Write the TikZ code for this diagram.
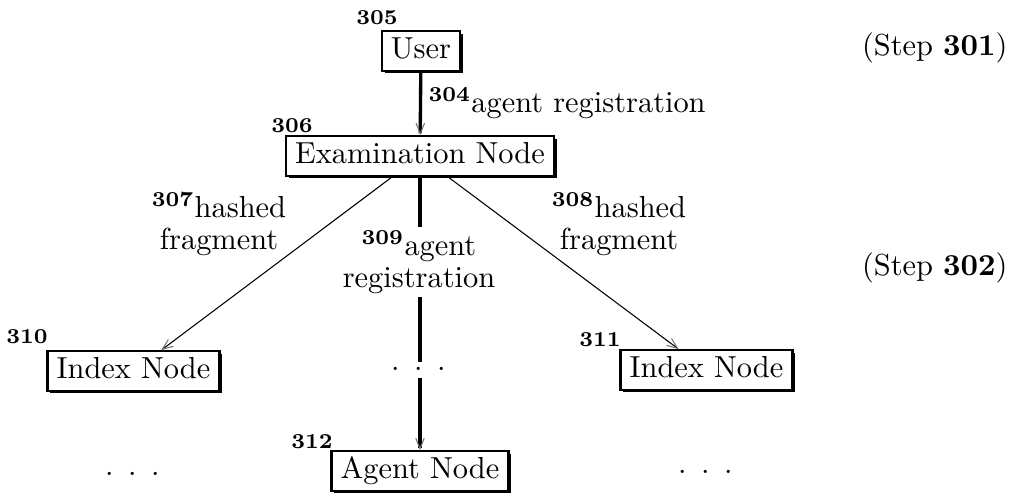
\documentclass[tikz,border=0pt]{standalone}
\usetikzlibrary{arrows.meta,shadows}
\newcommand\tdots{${\cdot}\hspace{4.8pt}{\cdot}\hspace{4.8pt}{\cdot}$}
\newcommand\refnum[1]{\textsuperscript{\bfseries #1}}
\begin{document}
\begin{tikzpicture}[x=0.329pt,y=-0.329pt,
  box/.style={draw,fill=white,line width=0.7pt,inner xsep=3pt,inner ysep=2pt,
    text height=7pt,text depth=2pt,
    drop shadow={shadow xshift=0.9pt,shadow yshift=-0.9pt,opacity=1,fill=black}},
  num/.style={font=\scriptsize\bfseries,inner sep=0pt},
  lbl/.style={align=center,font=\fontsize{10}{10.5}\selectfont,inner sep=0pt},
  tip/.style={-{Straight Barb[length=3.5pt,width=2.8pt,line width=0.35pt,color=black!55]}},
  thickline/.style={line width=1.1pt},
  thinline/.style={line width=0.35pt},
  dotsnode/.style={inner sep=0pt}]
\useasboundingbox (0,0) rectangle (1018,500);

% boxes
\node[box] (user)  at (421,51)    {User};
\node[box] (exam)  at (420,156)   {Examination Node};
\node[box] (idx1)  at (133.5,371) {Index Node};
\node[box] (idx2)  at (706.5,370) {Index Node};
\node[box] (agent) at (420,471)   {Agent Node};

% reference numbers
\node[num] (n305) at (377,18)  {305};
\node[num] (n306) at (292,126) {306};
\node[num] (n310) at (27,337)  {310};
\node[num] (n311) at (600,340) {311};
\node[num] (n312) at (312,442) {312};

% dots
\node[dotsnode] (d1) at (133,475) {\tdots};
\node[dotsnode] (d2) at (419,370) {\tdots};
\node[dotsnode] (d3) at (706,473) {\tdots};
\coordinate (g1) at (420,362);
\coordinate (g2) at (420,378);

% connectors
\draw[thickline,tip] (user) -- (exam);
\draw[thinline,tip] (exam) -- (idx1);
\draw[thinline,tip] (exam) -- (idx2);
\draw[thickline] (exam) -- (g1);
\draw[thickline,tip] (g2) -- (agent);

% connector labels
\node[lbl,anchor=base west] (l304) at (428,113) {\refnum{304}agent registration};
\node[lbl] (l307) at (219,224) {\refnum{307}hashed\\fragment};
\node[lbl] (l308) at (619,224) {\refnum{308}hashed\\fragment};
\node[lbl,fill=white,inner sep=1pt] (l309) at (419,262) {\refnum{309}agent\\registration};

% steps
\node[anchor=east,inner sep=0pt] (s301) at (1008,48)  {(Step \textbf{301})};
\node[anchor=east,inner sep=0pt] (s302) at (1008,268) {(Step \textbf{302})};
\end{tikzpicture}
\end{document}
